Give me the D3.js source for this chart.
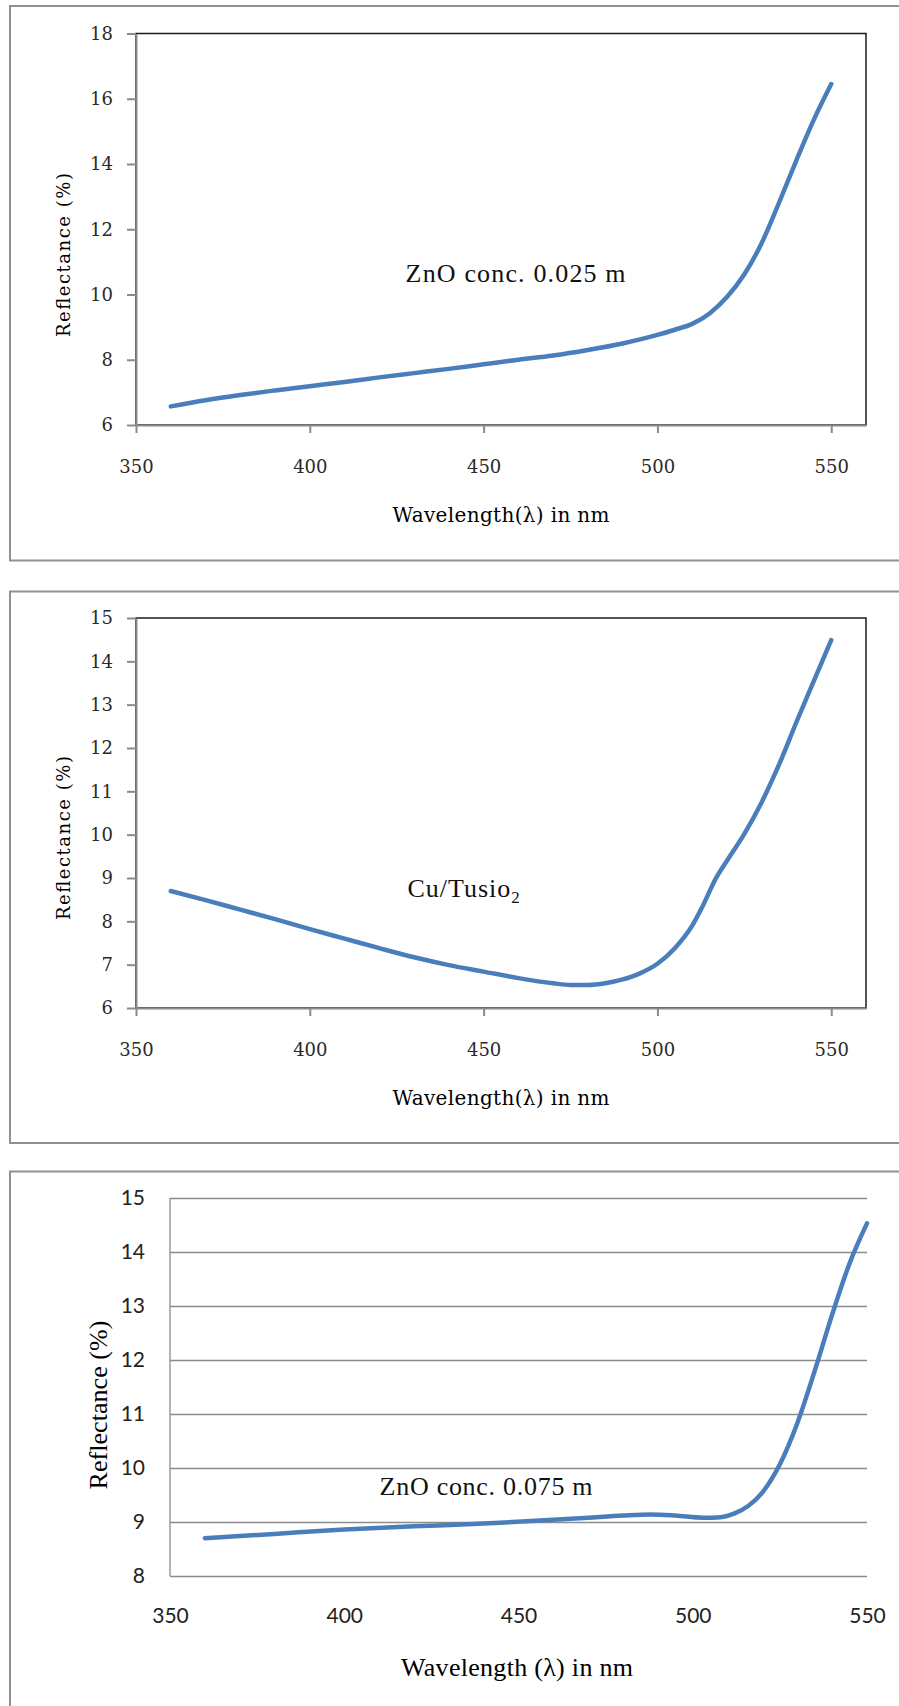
<!DOCTYPE html>
<html>
<head>
<meta charset="utf-8">
<script src="https://cdn.jsdelivr.net/npm/d3@7"></script>
<style>
  body { margin: 0; background: #fff; }
</style>
</head>
<body>
<div class="chart"></div>
<script>
// tick labels
let xTicks = [350, 400, 450, 500, 550];
let yTicks1 = [6, 8, 10, 12, 14, 16, 18];
let yTicks2 = [6, 7, 8, 9, 10, 11, 12, 13, 14, 15];
let yTicks3 = [8, 9, 10, 11, 12, 13, 14, 15];

// ZnO conc. 0.025 m
let wave1 = [360, 370, 380, 390, 400, 410, 420, 430, 440, 450, 460, 470, 480, 490, 500, 505, 510, 515, 520, 525, 530, 535, 540, 545, 550];
let refl1 = [6.57, 6.76, 6.92, 7.06, 7.19, 7.32, 7.46, 7.59, 7.72, 7.86, 8.00, 8.13, 8.30, 8.50, 8.76, 8.92, 9.10, 9.42, 9.92, 10.62, 11.58, 12.82, 14.12, 15.36, 16.45];

// Cu/Tusio2
let wave2 = [360, 370, 380, 390, 400, 410, 420, 430, 440, 450, 460, 470, 475, 480, 485, 490, 495, 500, 505, 510, 513, 517, 520, 525, 530, 535, 540, 545, 550];
let refl2 = [8.70, 8.49, 8.27, 8.05, 7.82, 7.60, 7.38, 7.17, 6.99, 6.84, 6.69, 6.57, 6.53, 6.53, 6.57, 6.66, 6.80, 7.02, 7.38, 7.90, 8.35, 9.02, 9.40, 10.02, 10.75, 11.62, 12.60, 13.55, 14.49];

// ZnO conc. 0.075 m
let wave3 = [360, 380, 400, 420, 440, 460, 470, 480, 488, 495, 503, 508, 512, 516, 520, 525, 530, 535, 540, 545, 550];
let refl3 = [8.70, 8.78, 8.86, 8.92, 8.97, 9.04, 9.08, 9.12, 9.14, 9.12, 9.08, 9.09, 9.16, 9.30, 9.55, 10.07, 10.83, 11.80, 12.84, 13.79, 14.53];

let width = 899;
let height = 1706;
let lineColor = '#4a7ebb';

let svg = d3.select('.chart')
            .append('svg')
            .attr('width', width)
            .attr('height', height)
            .style('display', 'block');

// outer frames (right side runs off the picture)
[[6, 560.5], [591.5, 1143], [1171.5, 1720]].forEach(f => {
  svg.append('rect')
     .attr('x', 10)
     .attr('y', f[0])
     .attr('width', 910)
     .attr('height', f[1] - f[0])
     .attr('fill', 'none')
     .attr('stroke', '#919191')
     .attr('stroke-width', 2);
});

let line = d3.line()
             .x(d => d.xs)
             .y(d => d.ys)
             .curve(d3.curveMonotoneX);

// old style panels (1 and 2): framed plot, serif text, outside ticks
function oldPanel(top, bottom, yTicks, yMax, waves, refls, noteX, noteY) {
  let left = 136, right = 866;
  let xScale = d3.scaleLinear().domain([350, 560]).range([left, right]);
  let yScale = d3.scaleLinear().domain([yTicks[0], yMax]).range([bottom, top]);
  let g = svg.append('g');

  g.append('rect')
   .attr('x', left)
   .attr('y', top)
   .attr('width', right - left)
   .attr('height', bottom - top)
   .attr('fill', 'none')
   .attr('stroke', '#1a1a1a')
   .attr('stroke-width', 1.5);

  let yAxis = g.append('g')
               .attr('transform', 'translate(' + left + ',0)')
               .call(d3.axisLeft(yScale).tickValues(yTicks).tickSize(9).tickSizeOuter(0).tickPadding(14));
  let xAxis = g.append('g')
               .attr('transform', 'translate(0,' + bottom + ')')
               .call(d3.axisBottom(xScale).tickValues(xTicks).tickSize(8).tickSizeOuter(0));
  [yAxis, xAxis].forEach(a => {
    a.select('.domain').attr('stroke', '#8a8a8a').attr('stroke-width', 2);
    a.selectAll('.tick line').attr('stroke', '#8a8a8a').attr('stroke-width', 2);
    a.selectAll('text')
     .attr('fill', '#2a2a2a')
     .style('font-family', 'DejaVu Serif')
     .style('font-size', '18px');
  });
  xAxis.selectAll('text').attr('y', 41.5).attr('dy', '0.35em');

  g.append('text')
   .attr('x', 501)
   .attr('y', bottom + 89.5)
   .attr('dy', '0.35em')
   .attr('text-anchor', 'middle')
   .attr('textLength', 217)
   .style('font-family', 'DejaVu Serif')
   .style('font-size', '20px')
   .text('Wavelength(λ) in nm');

  g.append('text')
   .attr('transform', 'translate(64,' + (bottom - 170) + ') rotate(-90)')
   .attr('dy', '0.35em')
   .attr('text-anchor', 'middle')
   .attr('textLength', 164)
   .style('font-family', 'DejaVu Serif')
   .style('font-size', '18px')
   .text('Reflectance (%)');

  let pts = waves.map((w, i) => ({xs: xScale(w), ys: yScale(refls[i])}));
  g.append('path')
   .attr('d', line(pts))
   .attr('fill', 'none')
   .attr('stroke', lineColor)
   .attr('stroke-width', 4.5)
   .attr('stroke-linecap', 'round');

  let t = g.append('text')
           .attr('x', xScale(noteX))
           .attr('y', yScale(noteY))
           .attr('text-anchor', 'middle')
           .style('font-family', 'Liberation Serif')
           .style('font-size', '26px')
           .attr('fill', '#111');
  return t;
}

let n1 = oldPanel(33.5, 425, yTicks1, 18, wave1, refl1, 459.2, 10.38);
n1.attr('textLength', 220).text('ZnO conc. 0.025 m');

let n2 = oldPanel(618, 1008, yTicks2, 15, wave2, refl2, 444.4, 8.56);
n2.style('letter-spacing', '1px');
n2.append('tspan').text('Cu/Tusio');
n2.append('tspan').attr('dy', 6).style('font-size', '17px').text('2');

// newer panel 3: gridlines, sans tick labels
let left3 = 170, right3 = 867, top3 = 1198, bottom3 = 1576;
let x3 = d3.scaleLinear().domain([350, 550]).range([left3, right3]);
let y3 = d3.scaleLinear().domain([8, 15]).range([bottom3, top3]);
let g3 = svg.append('g');

g3.append('g')
  .attr('transform', 'translate(' + left3 + ',0)')
  .call(d3.axisLeft(y3).tickValues(yTicks3).tickSize(-(right3 - left3)).tickFormat(''))
  .call(a => a.select('.domain').remove())
  .selectAll('line')
  .attr('stroke', '#8c8c8c')
  .attr('stroke-width', 1.3);

g3.append('line')
  .attr('x1', left3).attr('x2', left3)
  .attr('y1', top3).attr('y2', bottom3)
  .attr('stroke', '#8c8c8c')
  .attr('stroke-width', 1.3);

let yAx3 = g3.append('g')
             .attr('transform', 'translate(' + left3 + ',0)')
             .call(d3.axisLeft(y3).tickValues(yTicks3).tickFormat(d3.format('d')).tickSize(0).tickPadding(25));
let xAx3 = g3.append('g')
             .attr('transform', 'translate(0,' + bottom3 + ')')
             .call(d3.axisBottom(x3).tickValues(xTicks).tickFormat(d3.format('d')).tickSize(0));
[yAx3, xAx3].forEach(a => {
  a.select('.domain').remove();
  a.selectAll('text')
   .attr('fill', '#222')
   .style('font-family', 'Lato')
   .style('font-size', '21px');
});
xAx3.selectAll('text').attr('y', 40).attr('dy', '0.35em');

g3.append('text')
  .attr('x', 517)
  .attr('y', 1667)
  .attr('dy', '0.35em')
  .attr('text-anchor', 'middle')
  .attr('textLength', 232)
  .style('font-family', 'Liberation Serif')
  .style('font-size', '26px')
  .text('Wavelength (λ) in nm');

g3.append('text')
  .attr('transform', 'translate(98,1405) rotate(-90)')
  .attr('dy', '0.35em')
  .attr('text-anchor', 'middle')
  .attr('textLength', 169)
  .style('font-family', 'Liberation Serif')
  .style('font-size', '26px')
  .text('Reflectance (%)');

let pts3 = wave3.map((w, i) => ({xs: x3(w), ys: y3(refl3[i])}));
g3.append('path')
  .attr('d', line(pts3))
  .attr('fill', 'none')
  .attr('stroke', lineColor)
  .attr('stroke-width', 4.5)
  .attr('stroke-linecap', 'round');

g3.append('text')
  .attr('x', x3(440.7))
  .attr('y', y3(9.5))
  .attr('text-anchor', 'middle')
  .attr('textLength', 213)
  .style('font-family', 'Liberation Serif')
  .style('font-size', '26px')
  .attr('fill', '#111')
  .text('ZnO conc. 0.075 m');
</script>
</body>
</html>
